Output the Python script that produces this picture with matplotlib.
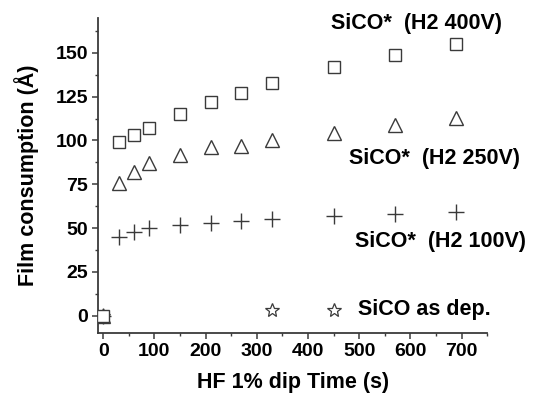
import numpy as np
import matplotlib
matplotlib.use("Agg")
import matplotlib.pyplot as plt
from matplotlib.ticker import MultipleLocator

plt.rcParams['font.family'] = ['Liberation Sans', 'DejaVu Sans']
plt.rcParams['font.weight'] = 'bold'

# data
t = [0, 30, 60, 90, 150, 210, 270, 330, 450, 570, 690]
h2_400v = [0, 99, 103, 107, 115, 122, 127, 133, 142, 149, 155]
h2_250v = [0, 76, 82, 87, 92, 96, 97, 100, 104, 109, 113]
h2_100v = [0, 45, 48, 50, 52, 53, 54, 55, 57, 58, 59]
t_dep = [0, 330, 450]
as_dep = [0, 3, 3]

labels = ["SiCO*  (H2 400V)", "SiCO*  (H2 250V)", "SiCO*  (H2 100V)", "SiCO as dep."]

col = '#3a3a3a'

fig = plt.figure(figsize=(5.48, 3.98), dpi=100)
ax = fig.add_axes([0.179, 0.163, 0.710, 0.792])

ax.plot(t, h2_250v, '^', ms=10.5, mfc='none', mec=col, mew=1.0, zorder=2)
ax.plot(t, h2_100v, '+', ms=11, mec=col, mew=1.0, zorder=2)
ax.plot(t_dep, as_dep, '*', ms=10, mfc='none', mec=col, mew=0.9, zorder=2)
ax.plot(t, h2_400v, 's', ms=8, mfc='white', mec=col, mew=1.0, zorder=3)

ax.text(445, 167, labels[0], fontsize=15.5, fontweight='bold', va='center')
ax.text(480, 90, labels[1], fontsize=15.5, fontweight='bold', va='center')
ax.text(492, 42.5, labels[2], fontsize=15.5, fontweight='bold', va='center')
ax.text(497, 3.4, labels[3], fontsize=15.5, fontweight='bold', va='center')

ax.set_xlim(-10, 750)
ax.set_ylim(-10, 170)
ax.xaxis.set_major_locator(MultipleLocator(100))
ax.xaxis.set_minor_locator(MultipleLocator(50))
ax.yaxis.set_minor_locator(MultipleLocator(12.5))
ax.set_yticks([0, 25, 50, 75, 100, 125, 150])

for s in ['top', 'right']:
    ax.spines[s].set_visible(False)
for s in ['left', 'bottom']:
    ax.spines[s].set_linewidth(1.3)
    ax.spines[s].set_color(col)

ax.tick_params(which='major', direction='out', length=4, width=1.1, color=col,
               labelsize=14, pad=3)
ax.tick_params(which='minor', direction='out', length=2.5, width=1.0, color=col)
for lb in ax.get_xticklabels() + ax.get_yticklabels():
    lb.set_fontweight('bold')

ax.set_xlabel("HF 1% dip Time (s)", fontsize=15.5, fontweight='bold', labelpad=9)
ax.set_ylabel("Film consumption (Å)", fontsize=15.5, fontweight='bold', labelpad=12)

fig.savefig("out.png", dpi=100)
